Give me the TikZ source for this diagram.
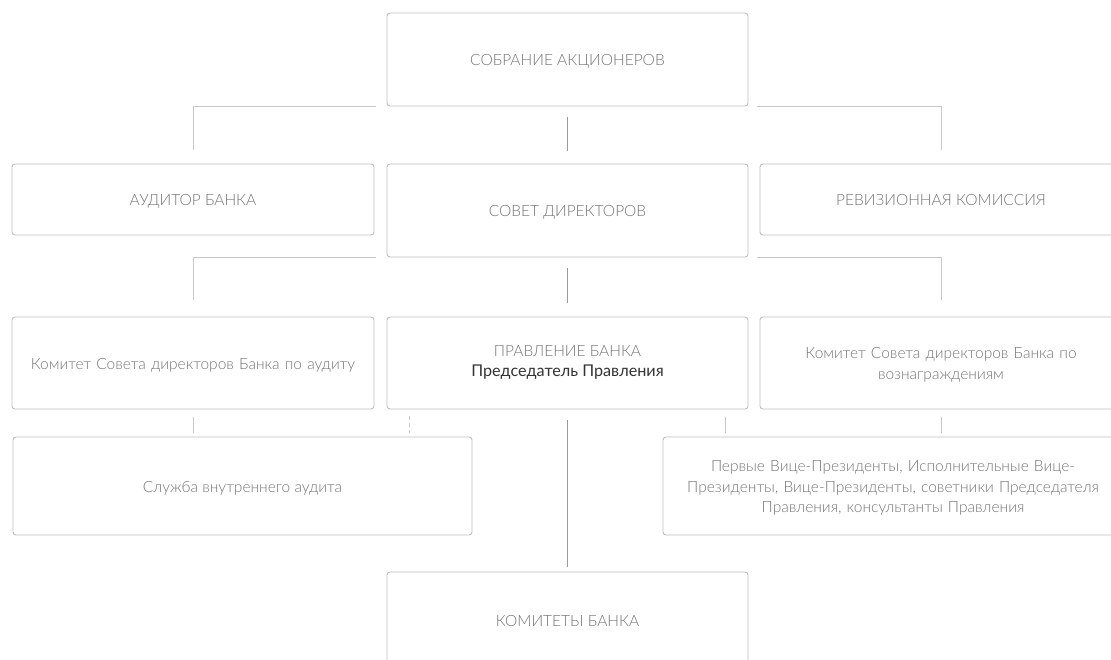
\documentclass[tikz,border=0pt]{standalone}
\usepackage{fontspec}
\setmainfont{Lato}[UprightFont={* Light}]
\newfontfamily\darkfont{Lato}
\definecolor{boxline}{HTML}{BEBEBE}
\definecolor{conlight}{HTML}{C8C8C8}
\definecolor{condark}{HTML}{999999}
\definecolor{txtgray}{HTML}{747474}
\definecolor{txtdark}{HTML}{333333}
\tikzset{
  orgbox/.style={draw=boxline, line width=0.9pt, rounded corners=3pt, align=center,
    text=txtgray, font=\fontsize{15.5}{20.5}\selectfont, inner sep=4pt,
    execute at begin node={\rule{0pt}{16.2pt}},
    execute at end node={\rule[-4pt]{0pt}{0pt}}},
  lightline/.style={draw=conlight, line width=0.9pt},
  darkline/.style={draw=condark, line width=1.9pt},
  dashline/.style={draw=conlight, line width=0.9pt, dash pattern=on 4pt off 3pt},
}
\begin{document}
\begin{tikzpicture}[x=1pt,y=-1pt]
\useasboundingbox (0,0) rectangle (1111,659);
\clip (0,0) rectangle (1111,659);
\node[orgbox, minimum width=361pt, minimum height=93pt] (sob) at (567.5,59.5) {СОБРАНИЕ АКЦИОНЕРОВ};
\node[orgbox, minimum width=362pt, minimum height=71pt] (aud) at (193,199.5) {АУДИТОР БАНКА};
\node[orgbox, minimum width=361pt, minimum height=93pt] (sov) at (567.5,210.5) {СОВЕТ ДИРЕКТОРОВ};
\node[orgbox, minimum width=362pt, minimum height=71pt] (rev) at (941,199.5) {РЕВИЗИОННАЯ КОМИССИЯ};
\node[orgbox, minimum width=362pt, minimum height=92pt, text width=345pt] (kaud) at (193,363) {Комитет Совета директоров Банка по аудиту};
\node[orgbox, minimum width=361pt, minimum height=92pt] (prav) at (567.5,363) {ПРАВЛЕНИЕ БАНКА\\{\darkfont\fontsize{16.2}{20.5}\selectfont\color{txtdark}Председатель Правления}};
\node[orgbox, minimum width=362pt, minimum height=92pt, text width=320pt] (kvoz) at (941,363) {Комитет Совета директоров Банка по\\вознаграждениям};
\node[orgbox, minimum width=459pt, minimum height=98pt] (sl) at (242.5,486) {Служба внутреннего аудита};
\node[orgbox, minimum width=460pt, minimum height=98pt, text width=445pt] (pv) at (893,486) {Первые Вице-Президенты, Исполнительные Вице-\\Президенты, Вице-Президенты, советники Председателя\\Правления, консультанты Правления};
\node[orgbox, minimum width=361pt, minimum height=96pt] (kom) at (567.5,620) {КОМИТЕТЫ БАНКА};
% connectors
\draw[lightline, shorten <=14pt, shorten >=11pt] (aud.north) |- (sob.south west);
\draw[lightline, shorten <=14pt, shorten >=9pt] (rev.north) |- (sob.south east);
\draw[darkline, shorten <=11pt, shorten >=13pt] (sob.south) -- (sov.north);
\draw[lightline, shorten <=17pt, shorten >=11pt] (kaud.north) |- (sov.south west);
\draw[lightline, shorten <=17pt, shorten >=9pt] (kvoz.north) |- (sov.south east);
\draw[darkline, shorten <=11pt, shorten >=14pt] (sov.south) -- (prav.north);
\draw[lightline, shorten <=8pt, shorten >=4pt] (kaud.south) -- (kaud.south |- sl.north);
\draw[dashline, shorten <=7pt, shorten >=4pt] ([xshift=23pt]prav.south west) -- ([xshift=23pt]prav.south west |- sl.north);
\draw[lightline, shorten <=8pt, shorten >=4pt] ([xshift=-23pt]prav.south east) -- ([xshift=-23pt]prav.south east |- pv.north);
\draw[lightline, shorten <=8pt, shorten >=4pt] (kvoz.south) -- (kvoz.south |- pv.north);
\draw[darkline, shorten <=11pt, shorten >=5pt] (prav.south) -- (kom.north);
\end{tikzpicture}
\end{document}
